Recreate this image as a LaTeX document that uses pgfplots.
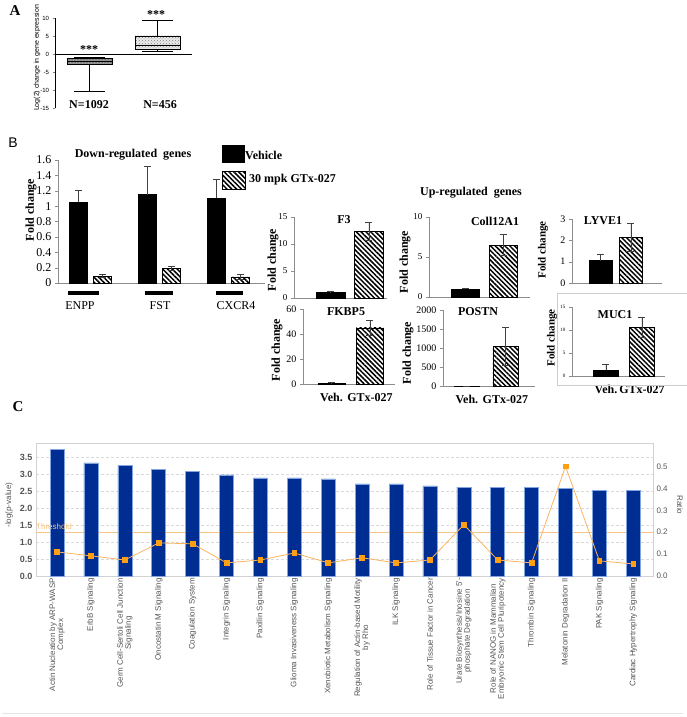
\documentclass[border=0pt]{standalone}
\usepackage{fontspec}
\setmainfont{Liberation Serif}
\newfontfamily\arial{Liberation Sans}
\usepackage{pgfplots}
\pgfplotsset{compat=1.18}
\usepgfplotslibrary{statistics}
\usetikzlibrary{patterns,patterns.meta}

\newcommand\fs[1]{\fontsize{#1}{#1}\selectfont}
\definecolor{ipablue}{RGB}{0,45,145}
\definecolor{ipaedge}{RGB}{130,165,225}
\definecolor{ipaline}{RGB}{250,180,95}
\definecolor{ipamark}{RGB}{255,160,20}
\definecolor{thr}{RGB}{245,195,130}
\definecolor{axgray}{RGB}{140,140,140}
\definecolor{lblgray}{RGB}{85,85,85}

\tikzset{hatch/.style={draw=black, pattern={Lines[angle=-45,distance=3.4pt,line width=1.5pt]}}}

\pgfplotsset{
  fc/.style={
    scale only axis, anchor=south west, clip=false,
    axis x line*=bottom, axis y line*=left,
    axis line style={axgray, line width=0.5pt},
    ymin=0, xtick=\empty, tick align=outside,
    ytick style={axgray}, major tick length=3pt,
    /pgf/number format/assume math mode=true,
    /pgf/number format/1000 sep={},
  },
  errs/.style={error bars/y explicit,
    error bars/error bar style={black!75, line width=0.6pt},
    error bars/error mark options={rotate=90, black!75, line width=0.6pt, mark size=3.5pt}},
  vbar/.style={ybar, bar shift=0pt, fill=black, draw=black, errs, error bars/y dir=plus},
  gbar/.style={ybar, bar shift=0pt, hatch, errs, error bars/y dir=both},
  vg/.style={xtick={1,2}, xticklabels={Veh.,GTx-027}, xtick style={draw=none},
    xticklabel style={font=\bfseries\fs{12}, yshift=-3pt}},
}

\begin{document}
\begin{tikzpicture}
\path[use as bounding box] (0,0) rectangle (687pt,-717pt);

% ---------------- A: box plot
\begin{axis}[scale only axis, anchor=south west, at={(55pt,-108pt)},
  width=137pt, height=90pt, xmin=0.493, xmax=2.507, ymin=-15, ymax=10,
  clip=false, axis y line*=left, axis x line=none,
  ytick={-15,-10,...,10}, tick align=outside, major tick length=2.5pt,
  yticklabel style={font=\arial\fs{6}},
  /pgf/number format/assume math mode=true,
  boxplot/draw direction=y,
  boxplot/box extend=0.66, boxplot/whisker extend=0.45]
\addplot[black, line width=0.7pt] coordinates {(0.493,0) (2.507,0)};
\addplot[black, boxplot prepared={draw position=1, lower whisker=-10.2,
  lower quartile=-2.9, median=-2.1, upper quartile=-1.3, upper whisker=-0.9},
  boxplot/every box/.style={fill=gray!75, postaction={pattern=crosshatch dots}}] coordinates {};
\addplot[black, boxplot prepared={draw position=2, lower whisker=0.8,
  lower quartile=1.4, median=2.4, upper quartile=5.0, upper whisker=9.3},
  boxplot/every box/.style={fill=gray!15, postaction={pattern=crosshatch dots, pattern color=gray}}] coordinates {};
\end{axis}

% ---------------- B: down-regulated (groups at 1,2,3; bars at +-0.174)
\begin{axis}[fc, at={(58pt,-283pt)}, width=207pt, height=123pt,
  xmin=0.529, xmax=3.53, ymax=1.6, ytick={0,0.2,...,1.6},
  yticklabel style={font=\fs{12}}]
\addplot[vbar, bar width=18pt] coordinates
  {(0.826,1.05) +- (0,0.15) (1.826,1.15) +- (0,0.37) (2.826,1.10) +- (0,0.25)};
\addplot[gbar, bar width=18pt] coordinates
  {(1.174,0.09) +- (0,0.02) (2.174,0.19) +- (0,0.03) (3.174,0.08) +- (0,0.03)};
\end{axis}

% F3
\begin{axis}[fc, at={(294pt,-298pt)}, width=93pt, height=81pt,
  xmin=0.052, xmax=2.468, ymax=15, ytick={0,5,10,15},
  yticklabel style={font=\fs{9}}]
\addplot[vbar, bar width=29pt] coordinates {(1,1.0) +- (0,0.3)};
\addplot[gbar, bar width=29pt] coordinates {(2,12.3) +- (0,1.7)};
\end{axis}

% Coll12A1
\begin{axis}[fc, at={(429pt,-297pt)}, width=101pt, height=80pt,
  xmin=0.027, xmax=2.72, ymax=10, ytick={0,5,10},
  yticklabel style={font=\fs{9}}]
\addplot[vbar, bar width=28pt] coordinates {(1,1.0) +- (0,0.1)};
\addplot[gbar, bar width=28pt] coordinates {(2,6.5) +- (0,1.3)};
\end{axis}

% LYVE1
\begin{axis}[fc, at={(572pt,-283pt)}, width=90pt, height=64pt,
  xmin=0.066, xmax=3.02, ymax=3, ytick={0,1,2,3},
  yticklabel style={font=\fs{10}}]
\addplot[vbar, bar width=23pt] coordinates {(1,1.05) +- (0,0.3)};
\addplot[gbar, bar width=23pt] coordinates {(2,2.15) +- (0,0.65)};
\end{axis}

% FKBP5
\begin{axis}[fc, vg, at={(303pt,-384pt)}, width=92pt, height=75pt,
  xmin=0.26, xmax=2.65, ymax=60, ytick={0,20,40,60},
  yticklabel style={font=\fs{10}}]
\addplot[vbar, bar width=27pt] coordinates {(1,0.8) +- (0,0.2)};
\addplot[gbar, bar width=27pt] coordinates {(2,45) +- (0,6)};
\end{axis}

% POSTN
\begin{axis}[fc, vg, at={(443pt,-386pt)}, width=92pt, height=76pt,
  xmin=0.377, xmax=2.77, ymax=2000, ytick={0,500,1000,1500,2000},
  yticklabel style={font=\fs{10}}]
\addplot[vbar, bar width=25pt] coordinates {(1,1) +- (0,0)};
\addplot[gbar, bar width=25pt] coordinates {(2,1050) +- (0,500)};
\end{axis}

% MUC1
\begin{axis}[fc, vg, at={(572pt,-376pt)}, width=93pt, height=69pt,
  xmin=0.056, xmax=2.64, ymax=15, ytick={0,5,10,15},
  yticklabel style={font=\fs{5}}]
\addplot[vbar, bar width=25pt] coordinates {(1,1.2) +- (0,1.3)};
\addplot[gbar, bar width=25pt] coordinates {(2,10.6) +- (0,2.1)};
\end{axis}

% ---------------- C: pathways
\begin{axis}[scale only axis, anchor=south west, at={(36pt,-576pt)},
  width=617pt, height=133pt, xmin=-0.62, xmax=17.58, ymin=0, ymax=3.93,
  clip=false, axis line style={gray!35}, ytick pos=left,
  ytick={0,0.5,...,3.5}, ytick style={draw=none}, xtick style={draw=none},
  yticklabel style={font=\arial\bfseries\fs{9}, text=lblgray,
    /pgf/number format/.cd, fixed, fixed zerofill, precision=1},
  /pgf/number format/assume math mode=true,
  ymajorgrids, grid style={densely dashed, gray!30},
  xtick={0,...,17},
  xticklabels={{Actin Nucleation by ARP-WASP\\Complex},{ErbB Signaling},
    {Germ Cell-Sertoli Cell Junction\\Signaling},{Oncostatin M Signaling},
    {Coagulation System},{Integrin Signaling},{Paxillin Signaling},
    {Glioma Invasiveness Signaling},{Xenobiotic Metabolism Signaling},
    {Regulation of Actin-based Motility\\by Rho},{ILK Signaling},
    {Role of Tissue Factor in Cancer},
    {Urate Biosynthesis/Inosine 5'-\\phosphate Degradation},
    {Role of NANOG in Mammalian\\Embryonic Stem Cell Pluripotency},
    {Thrombin Signaling},{Melatonin Degradation II},{PAK Signaling},
    {Cardiac Hypertrophy Signaling}},
  xticklabel style={rotate=90, anchor=east, align=center,
    font=\arial\fs{8}, text=lblgray, inner sep=2pt}]
\addplot[thr, line width=0.8pt] coordinates {(-0.62,1.3) (17.58,1.3)};
\addplot[ybar, bar width=14pt, fill=ipablue, draw=ipaedge, line width=0.6pt] coordinates {
  (0,3.73) (1,3.34) (2,3.28) (3,3.14) (4,3.08) (5,2.99) (6,2.90) (7,2.90) (8,2.87)
  (9,2.72) (10,2.72) (11,2.66) (12,2.63) (13,2.63) (14,2.63) (15,2.60) (16,2.54) (17,2.54)};
\end{axis}
\begin{axis}[scale only axis, anchor=south west, at={(36pt,-576pt)},
  width=617pt, height=133pt, xmin=-0.62, xmax=17.58, ymin=0, ymax=0.607,
  axis y line*=right, axis x line=none, axis line style={gray!35},
  ytick={0,0.1,0.2,0.3,0.4,0.5}, ytick style={draw=none},
  yticklabel style={font=\arial\fs{8}, text=lblgray,
    /pgf/number format/.cd, fixed, fixed zerofill, precision=1},
  /pgf/number format/assume math mode=true]
\addplot[ipaline, line width=0.8pt, mark=square*, mark size=2.4pt,
  mark options={fill=ipamark, draw=ipamark}] coordinates {
  (0,0.110) (1,0.092) (2,0.073) (3,0.151) (4,0.147) (5,0.060) (6,0.073) (7,0.105) (8,0.060)
  (9,0.083) (10,0.060) (11,0.073) (12,0.234) (13,0.073) (14,0.060) (15,0.500) (16,0.069) (17,0.055)};
\end{axis}

% ---------------- text and decorations
\begin{scope}[x=1pt, y=-1pt]
  \node[font=\bfseries\fs{15}] at (15,11) {A};
  \node[font=\arial\fs{14}] at (13,143) {B};
  \node[font=\bfseries\fs{15}] at (18,407) {C};
  % A
  \node[rotate=90, font=\arial\fs{7}] at (37,58) {Log(2) change in gene expression};
  \node[font=\bfseries\fs{12}] at (89,50) {***};
  \node[font=\bfseries\fs{12}] at (156,15) {***};
  \node[font=\bfseries\fs{12}] at (89,105) {N=1092};
  \node[font=\bfseries\fs{12}] at (160,105) {N=456};
  % B titles and labels
  \node[font=\bfseries\fs{12}] at (133,155) {Down-regulated\ \ genes};
  \node[font=\bfseries\fs{12}] at (471,193) {Up-regulated\ \ genes};
  \node[rotate=90, font=\bfseries\fs{12}] at (31,210) {Fold change};
  \draw[line width=3.2pt] (68,293) -- (99,293);
  \draw[line width=3.2pt] (145,293) -- (173,293);
  \draw[line width=3.2pt] (216,293) -- (243,293);
  \node[font=\fs{12}] at (80,306) {ENPP};
  \node[font=\fs{12}] at (160,306) {FST};
  \node[font=\fs{12}] at (236,306) {CXCR4};
  % legend
  \fill[black] (222,145) rectangle (245,163);
  \draw[hatch] (222,171) rectangle (245,189);
  \node[anchor=west, font=\bfseries\fs{12}, inner sep=0pt] at (245,155) {Vehicle};
  \node[anchor=west, font=\bfseries\fs{12}, inner sep=0pt] at (249,180) {30 mpk GTx-027};
  % panel titles
  \node[font=\bfseries\fs{12}] at (344,220) {F3};
  \node[font=\bfseries\fs{12}] at (495,221) {Coll12A1};
  \node[font=\bfseries\fs{12}] at (603,221) {LYVE1};
  \node[font=\bfseries\fs{12}] at (346,312) {FKBP5};
  \node[font=\bfseries\fs{12}] at (478,312) {POSTN};
  \node[font=\bfseries\fs{12}] at (615,315) {MUC1};
  \node[rotate=90, font=\bfseries\fs{12}] at (273,260) {Fold change};
  \node[rotate=90, font=\bfseries\fs{12}] at (405,262) {Fold change};
  \node[rotate=90, font=\bfseries\fs{11}] at (543,250) {Fold change};
  \node[rotate=90, font=\bfseries\fs{12}] at (277,350) {Fold change};
  \node[rotate=90, font=\bfseries\fs{12}] at (408,353) {Fold change};
  \node[rotate=90, font=\bfseries\fs{11}] at (552,338) {Fold change};
  \draw[gray!40, line width=0.6pt] (687,293) -- (557,293) -- (557,385) -- (687,385);
  % C
  \node[rotate=90, font=\arial\fs{8}, text=lblgray] at (9,505) {-log(p-value)};
  \node[rotate=-90, font=\arial\fs{8}, text=lblgray] at (680,505) {Ratio};
  \node[font=\arial\fs{8}, text=thr, anchor=west, inner sep=0pt] at (36,527) {Threshold};
  \draw[gray!20, line width=0.6pt] (2,713) -- (683,713);
\end{scope}
\end{tikzpicture}
\end{document}
